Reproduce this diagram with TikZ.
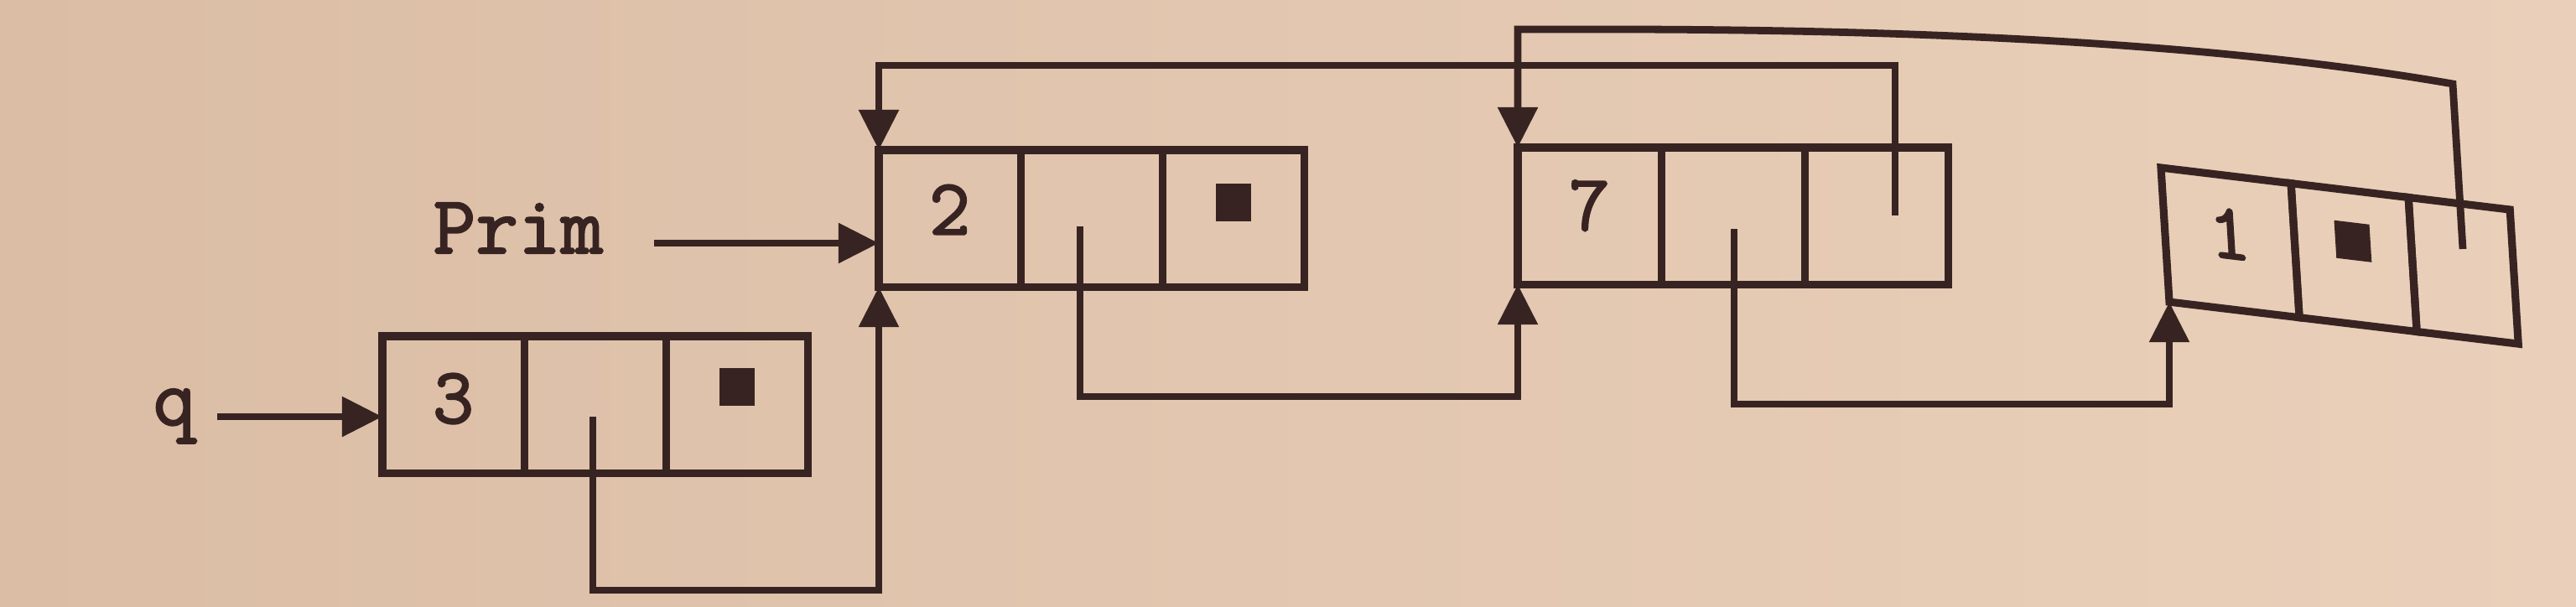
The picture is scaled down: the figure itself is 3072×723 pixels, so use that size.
\documentclass[tikz,border=0pt]{standalone}
\usepackage{fontspec}
\newfontfamily\typew{Latin Modern Mono}[FakeBold=2.2]
\usetikzlibrary{arrows.meta,calc}
\definecolor{paper}{RGB}{234,208,186}
\definecolor{paperL}{RGB}{219,189,165}
\definecolor{ink}{RGB}{55,36,34}
\begin{document}
\begin{tikzpicture}[x=0.01cm,y=-0.01cm,
  cell/.style={draw=ink, line width=2.6pt, minimum width=1.69cm, minimum height=1.63cm,
               inner sep=0pt, outer sep=0pt, anchor=north west},
  val/.style={font=\fontsize{27}{30}\selectfont\typew, text=ink, inner sep=0pt},
  lab/.style={font=\fontsize{28}{32}\selectfont\typew, text=ink, inner sep=0pt},
  nul/.style={fill=ink, minimum width=0.42cm, minimum height=0.45cm, inner sep=0pt},
  link/.style={draw=ink, line width=2.5pt, line join=miter},
  arr/.style={link, -{Triangle[length=0.48cm,width=0.46cm]}}]
% page
\useasboundingbox (0,0) rectangle (3072,723);
\shade[left color=paperL, right color=paper] (0,0) rectangle (3072,723);

% box 3
\node[cell] (b3a) at (456,401) {};
\node[cell, anchor=west] (b3b) at (b3a.east) {};
\node[cell, anchor=west] (b3c) at (b3b.east) {};
\node[val, yshift=2pt] (t3) at (b3a.center) {3};
\node[nul, yshift=6pt] (n3) at (b3c.center) {};

% box 2
\node[cell] (b2a) at (1048,179) {};
\node[cell, anchor=west] (b2b) at (b2a.east) {};
\node[cell, anchor=west] (b2c) at (b2b.east) {};
\node[val, yshift=3pt] (t2) at (b2a.center) {2};
\node[nul, yshift=5.5pt] (n2) at (b2c.center) {};

% box 7
\node[cell, minimum width=1.71cm] (b7a) at (1810,176) {};
\node[cell, minimum width=1.71cm, anchor=west] (b7b) at (b7a.east) {};
\node[cell, minimum width=1.71cm, anchor=west] (b7c) at (b7b.east) {};
\node[val, yshift=3.5pt] (t7) at (b7a.center) {7};

% box 1 (seen in perspective)
\begin{scope}[shift={(2577,200)}]
\begin{scope}[cm={1,-0.1202,-0.0625,1,(0,0)}, transform shape]
\node[cell, minimum width=1.55cm, minimum height=1.60cm] (b1a) at (0,0) {};
\node[cell, minimum width=1.40cm, minimum height=1.60cm, anchor=west] (b1b) at (b1a.east) {};
\node[cell, minimum width=1.21cm, minimum height=1.60cm, anchor=west] (b1c) at (b1b.east) {};
\node[val, yshift=3pt] (t1) at (b1a.center) {1};
\node[nul, yshift=5.5pt] (n1) at (b1b.center) {};
\end{scope}
\end{scope}

% labels
\node[lab, anchor=base] (prim) at (618,302) {Prim};
\node[lab, anchor=base] (q) at (208,507) {q};

% pointer start points
\coordinate (p3) at (707,497);
\coordinate (p2) at (1288,270);
\coordinate (p7b) at (2068,273);
\coordinate (p7c) at (2260,257);
\coordinate (p1c) at (2937,297);

% connectors
\draw[arr] ([shift={(25,-10)}]q.base east) coordinate (qs) -- (qs -| b3a.west);
\draw[arr] ([shift={(60,-12)}]prim.base east) coordinate (ps) -- (ps -| b2a.west);
\draw[arr] (p3) -- ++(0,207) -| (b2a.south west);
\draw[arr] (p2) -- ++(0,203) -| (b7a.south west);
\draw[arr] (p7b) -- ++(0,209) -| (b1a.south west);
\draw[arr] (p7c) -- ++(0,-179) -| (b2a.north west);
\draw[arr] (p1c) -- (2925,100) .. controls (2650,52) and (2300,36) .. (1950,35)
           -| (b7a.north west);
\end{tikzpicture}
\end{document}
